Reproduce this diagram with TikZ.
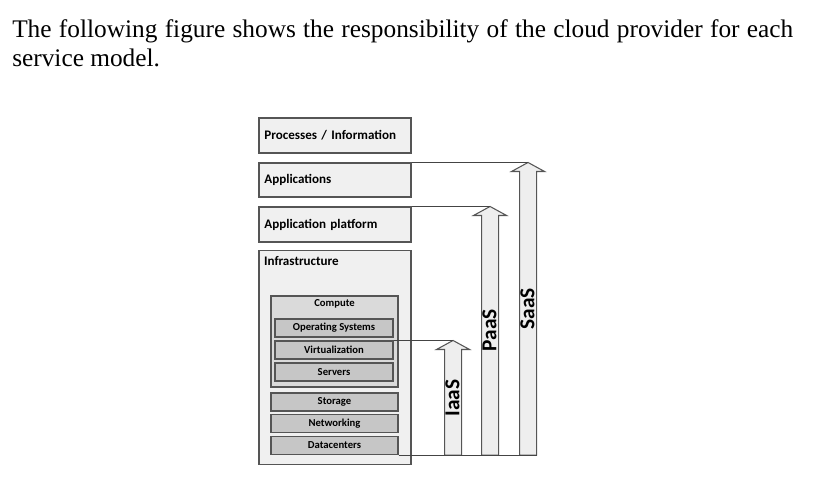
\documentclass[tikz,border=0pt]{standalone}
\usepackage{fontspec}
\setmainfont{Liberation Serif}
\newfontfamily\diagfont{Carlito}
\usetikzlibrary{positioning}
\definecolor{edgegray}{HTML}{555555}
\definecolor{layergray}{HTML}{F0F0F0}
\definecolor{computegray}{HTML}{DADADA}
\definecolor{partgray}{HTML}{C6C6C6}
\definecolor{arrowgray}{HTML}{EEEEEE}
\tikzstyle{layer}=[
	rectangle,
	draw=edgegray,
	fill=layergray,
	line width=0.8pt,
	text width=106pt,
	inner xsep=4pt,
	inner ysep=0pt,
	align=left,
	font=\diagfont\bfseries\fontsize{9.8}{11}\selectfont
]
\tikzstyle{part}=[
	rectangle,
	draw=edgegray,
	fill=partgray,
	line width=0.8pt,
	minimum height=13.5pt,
	inner sep=0pt,
	font=\diagfont\bfseries\fontsize{8}{9}\selectfont
]
\tikzstyle{service}=[
	draw=edgegray,
	fill=arrowgray,
	line width=0.8pt,
	line join=miter
]
\tikzstyle{servicelabel}=[
	rotate=90,
	inner sep=0pt,
	font=\diagfont\bfseries\fontsize{16}{18}\selectfont
]
\tikzstyle{link}=[
	draw=edgegray!80!black,
	line width=0.8pt
]

\begin{document}
\begin{tikzpicture}[x=0.75pt,y=-0.75pt]
\useasboundingbox (0,0) rectangle (836,476);
\node [anchor=north west, inner sep=0pt, text width=585.75pt, align=justify,
	font=\fontsize{19}{21.75}\selectfont] (caption) at (12,19)
	{The following figure shows the responsibility of the cloud provider for each\linebreak service model.};
% layers
\node [layer, minimum height=26.25pt] (processes) at (335,135.5) {Processes / Information};
\node [layer, minimum height=25.5pt] (applications) [below=6.7pt of processes] {Applications};
\node [layer, minimum height=26.25pt] (platform) [below=6.7pt of applications] {Application platform};
\node [layer, minimum height=160.5pt,
	label={[anchor=north west, inner sep=4pt, font=\diagfont\bfseries\fontsize{9.8}{11}\selectfont]north west:Infrastructure}]
	(infrastructure) [below=5.9pt of platform] {};
% compute
\node [part, fill=computegray, minimum width=95.25pt, minimum height=68.25pt,
	label={[anchor=north, inner sep=3pt, font=\diagfont\bfseries\fontsize{8}{9}\selectfont]north:Compute}]
	(compute) at (334.5,341.5) {};
\node [part, minimum width=88.5pt] (os) at (334,328) {Operating Systems};
\node [part, minimum width=88.5pt] (virtualization) at (334,350) {Virtualization};
\node [part, minimum width=88.5pt] (servers) at (334,372) {Servers};
\node [part, minimum width=95.25pt] (storage) at (334.5,402) {Storage};
\node [part, minimum width=95.25pt] (networking) at (334.5,423.5) {Networking};
\node [part, minimum width=95.25pt] (datacenters) at (334.5,445.5) {Datacenters};
% service models
\path (virtualization.north east) ++(59.5,0) coordinate (iaas tip);
\path (platform.north east) ++(78.5,0) coordinate (paas tip);
\path (applications.north east) ++(116.5,0) coordinate (saas tip);
\coordinate (ground) at (datacenters.south east);
\draw [service] (iaas tip) -- ++(16.5,9) -- ++(-8,0) coordinate (iaas r)
	-- (iaas r |- ground) -- ++(-17,0) coordinate (iaas l) -- (iaas l |- iaas r) -- ++(-8,0) -- cycle;
\draw [service] (paas tip) -- ++(16.5,9) -- ++(-8,0) coordinate (paas r)
	-- (paas r |- ground) -- ++(-17,0) coordinate (paas l) -- (paas l |- paas r) -- ++(-8,0) -- cycle;
\draw [service] (saas tip) -- ++(16.5,9) -- ++(-8,0) coordinate (saas r)
	-- (saas r |- ground) coordinate (saas base) -- ++(-17,0) coordinate (saas l) -- (saas l |- saas r) -- ++(-8,0) -- cycle;
\node [servicelabel] (iaas) at (452.5,398) {IaaS};
\node [servicelabel] (paas) at (489.5,330) {PaaS};
\node [servicelabel] (saas) at (527.5,309) {SaaS};
\draw [link] (virtualization.north east) -- (iaas tip);
\draw [link] (platform.north east) -- (paas tip);
\draw [link] (applications.north east) -- (saas tip);
\draw [link] (ground) -- (saas base);
\end{tikzpicture}
\end{document}
